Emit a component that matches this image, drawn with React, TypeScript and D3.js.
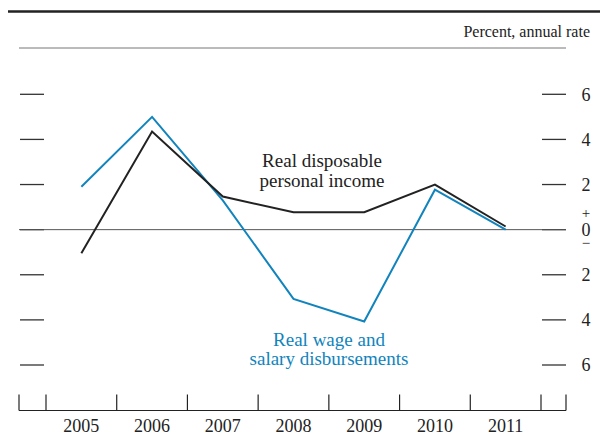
import React from "react";
import * as d3 from "d3";

const years = ["2005", "2006", "2007", "2008", "2009", "2010", "2011"];
const income = [-1.05, 4.35, 1.47, 0.77, 0.77, 2.0, 0.14];
const wages = [1.9, 5.0, 1.3, -3.07, -4.07, 1.77, 0.0];
const yTicks = [-6, -4, -2, 0, 2, 4, 6];

const W = 600;
const H = 435;
const FONT = "'Liberation Serif', 'Times New Roman', serif";
const BLUE = "#1184bd";

export default function App() {
  const x = d3.scaleBand<string>().domain(years).range([46, 541]).padding(0);
  const y = d3.scaleLinear().domain([-6, 6]).range([365, 94.3]);
  const cx = (d: string) => (x(d) as number) + x.bandwidth() / 2;

  const line = d3
    .line<number>()
    .x((_, i) => cx(years[i]))
    .y((v) => y(v));

  const edges = [19, ...years.map((d) => x(d) as number), 541, 566];
  const axisY = 410.5;

  return (
    <svg
      width={W}
      height={H}
      style={{ position: "absolute", left: 0, top: 0, background: "#fff" }}
      fontFamily={FONT}
    >
      <line x1={8} x2={600} y1={11.5} y2={11.5} stroke="#222" strokeWidth={2.5} />
      <text x={590} y={37} textAnchor="end" fontSize={16} fill="#222">
        Percent, annual rate
      </text>
      <line x1={19} x2={566} y1={48} y2={48} stroke="#777" strokeWidth={1} />

      {yTicks.map((t) => (
        <g key={t}>
          <line x1={20} x2={44} y1={y(t)} y2={y(t)} stroke="#333" strokeWidth={1.3} />
          <line x1={542} x2={566} y1={y(t)} y2={y(t)} stroke="#333" strokeWidth={1.3} />
          <text
            x={586}
            y={y(t)}
            dy="0.35em"
            textAnchor="middle"
            fontSize={18}
            fill="#222"
          >
            {Math.abs(t)}
          </text>
        </g>
      ))}
      <text x={586} y={y(0) - 12} textAnchor="middle" fontSize={15} fill="#222">
        +
      </text>
      <text x={586} y={y(0) + 18} textAnchor="middle" fontSize={15} fill="#222">
        −
      </text>

      <line x1={19} x2={566} y1={y(0)} y2={y(0)} stroke="#555" strokeWidth={1} />

      <line x1={19} x2={566} y1={axisY} y2={axisY} stroke="#222" strokeWidth={1.2} />
      {edges.map((e, i) => (
        <line key={i} x1={e} x2={e} y1={axisY - 16} y2={axisY} stroke="#222" strokeWidth={1.2} />
      ))}
      {years.map((d) => (
        <text key={d} x={cx(d)} y={432} textAnchor="middle" fontSize={18} fill="#222">
          {d}
        </text>
      ))}

      <path d={line(wages) || ""} fill="none" stroke={BLUE} strokeWidth={2} />
      <path d={line(income) || ""} fill="none" stroke="#222" strokeWidth={2} />

      <text textAnchor="middle" fontSize={19} fill="#222">
        <tspan x={322} y={167}>Real disposable</tspan>
        <tspan x={322} y={187}>personal income</tspan>
      </text>
      <text textAnchor="middle" fontSize={19} fill={BLUE}>
        <tspan x={329} y={346}>Real wage and</tspan>
        <tspan x={329} y={365}>salary disbursements</tspan>
      </text>
    </svg>
  );
}
